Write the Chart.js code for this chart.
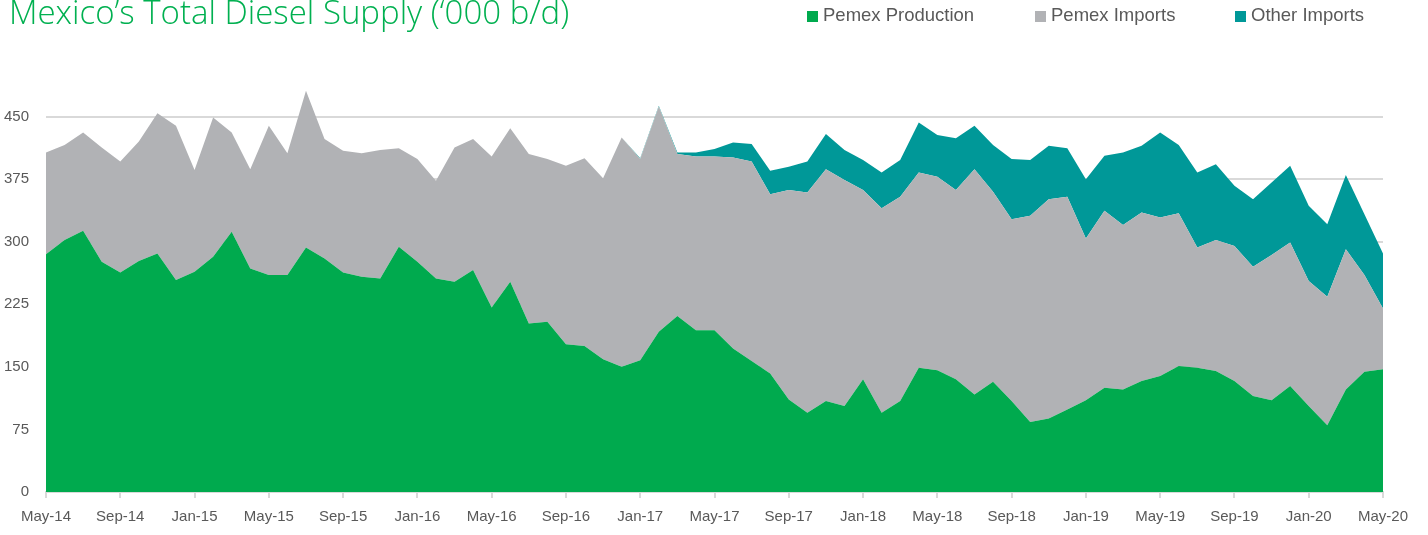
<!DOCTYPE html>
<html>
<head>
<meta charset="utf-8">
<script src="https://cdn.jsdelivr.net/npm/chart.js@4.4.0/dist/chart.umd.min.js"></script>
<style>
  body { margin: 0; background: #fff; }
  #wrap { position: relative; width: 1428px; height: 535px; overflow: hidden; }
  #chart { position: absolute; left: 0; top: 0; }
  .title { position: absolute; left: 9px; top: -5px; font: 300 33px/33px "Open Sans", sans-serif; color: #00B050; white-space: nowrap; }
  .leg { position: absolute; top: 5px; font: 18.5px/20px "Liberation Sans", Arial, sans-serif; color: #595959; white-space: nowrap; }
  .sw { position: absolute; top: 11px; width: 11px; height: 11px; }
</style>
</head>
<body>
<div id="wrap">
  <canvas id="chart" width="1428" height="535"></canvas>
  <div class="title">Mexico’s Total Diesel Supply (‘000 b/d)</div>
  <div class="sw" style="left:807px;background:#00AA4E"></div>
  <div class="leg" style="left:823px">Pemex Production</div>
  <div class="sw" style="left:1035px;background:#B1B2B5"></div>
  <div class="leg" style="left:1051px">Pemex Imports</div>
  <div class="sw" style="left:1235px;background:#009898"></div>
  <div class="leg" style="left:1251px">Other Imports</div>
</div>
<script>
// monthly categories, May-14 .. May-20
const months = [
  'May-14','Jun-14','Jul-14','Aug-14','Sep-14','Oct-14','Nov-14','Dec-14',
  'Jan-15','Feb-15','Mar-15','Apr-15','May-15','Jun-15','Jul-15','Aug-15','Sep-15','Oct-15','Nov-15','Dec-15',
  'Jan-16','Feb-16','Mar-16','Apr-16','May-16','Jun-16','Jul-16','Aug-16','Sep-16','Oct-16','Nov-16','Dec-16',
  'Jan-17','Feb-17','Mar-17','Apr-17','May-17','Jun-17','Jul-17','Aug-17','Sep-17','Oct-17','Nov-17','Dec-17',
  'Jan-18','Feb-18','Mar-18','Apr-18','May-18','Jun-18','Jul-18','Aug-18','Sep-18','Oct-18','Nov-18','Dec-18',
  'Jan-19','Feb-19','Mar-19','Apr-19','May-19','Jun-19','Jul-19','Aug-19','Sep-19','Oct-19','Nov-19','Dec-19',
  'Jan-20','Feb-20','Mar-20','Apr-20','May-20'
];

// '000 b/d
const pemexProduction = [
  285,302,313,276,263,277,286,254,264,282,312,268,260,260,293,280,263,258,256,294,
  276,256,252,266,221,252,202,204,177,175,159,150,158,192,211,194,194,172,157,142,
  111,95,109,103,135,95,109,149,146,135,117,132,109,84,88,99,110,125,123,133,
  139,151,149,145,133,115,110,127,103,80,123,144,147
];
const pemexImports = [
  122,114,118,137,133,143,168,185,122,167,119,119,179,146,188,143,146,148,154,118,
  123,117,161,157,181,184,203,195,214,225,217,275,241,270,194,208,208,229,239,215,
  251,264,278,271,227,245,245,234,232,227,270,228,218,247,263,255,194,212,197,202,
  190,183,144,157,162,155,174,172,150,154,168,116,73
];
const otherImports = [
  0,0,0,0,0,0,0,0,0,0,0,0,0,0,0,0,0,0,0,0,
  0,0,0,0,0,0,0,0,0,0,0,0,1,1,2,5,9,18,21,28,
  28,37,42,36,36,43,44,60,50,62,52,56,72,67,64,58,71,66,87,80,
  102,82,90,91,72,81,87,92,90,87,89,73,66
];
const yTicks = [0, 75, 150, 225, 300, 375, 450];

const axisFont = { family: '"Liberation Sans", Arial, sans-serif', size: 15 };

function area(label, data, color, fill) {
  return {
    label: label,
    data: data,
    backgroundColor: color,
    borderColor: color,
    borderWidth: 0,
    pointRadius: 0,
    tension: 0,
    fill: fill
  };
}

new Chart(document.getElementById('chart'), {
  type: 'line',
  data: {
    labels: months,
    datasets: [
      area('Pemex Production', pemexProduction, '#00AA4E', 'origin'),
      area('Pemex Imports', pemexImports, '#B1B2B5', '-1'),
      area('Other Imports', otherImports, '#009898', '-1')
    ]
  },
  options: {
    responsive: false,
    animation: false,
    layout: { padding: { top: 54, right: 45, left: 0, bottom: 0 } },
    plugins: { legend: { display: false }, tooltip: { enabled: false } },
    scales: {
      x: {
        offset: false,
        grid: { drawOnChartArea: false, color: '#D9D9D9', lineWidth: 2, tickLength: 6 },
        border: { color: '#D9D9D9', width: 2 },
        ticks: {
          autoSkip: false, maxRotation: 0, padding: 10,
          color: '#595959', font: axisFont,
          callback: (v, i) => (i % 4 === 0 ? months[i] : null)
        },
        afterFit: s => { s.height = 43; }
      },
      y: {
        stacked: true,
        min: 0,
        max: 525,
        afterBuildTicks: s => { s.ticks = yTicks.map(v => ({ value: v })); },
        grid: { color: '#D9D9D9', lineWidth: 2, drawTicks: false },
        border: { display: false },
        ticks: { padding: 17, color: '#595959', font: axisFont },
        afterFit: s => { s.width = 46; }
      }
    }
  }
});
</script>
</body>
</html>
